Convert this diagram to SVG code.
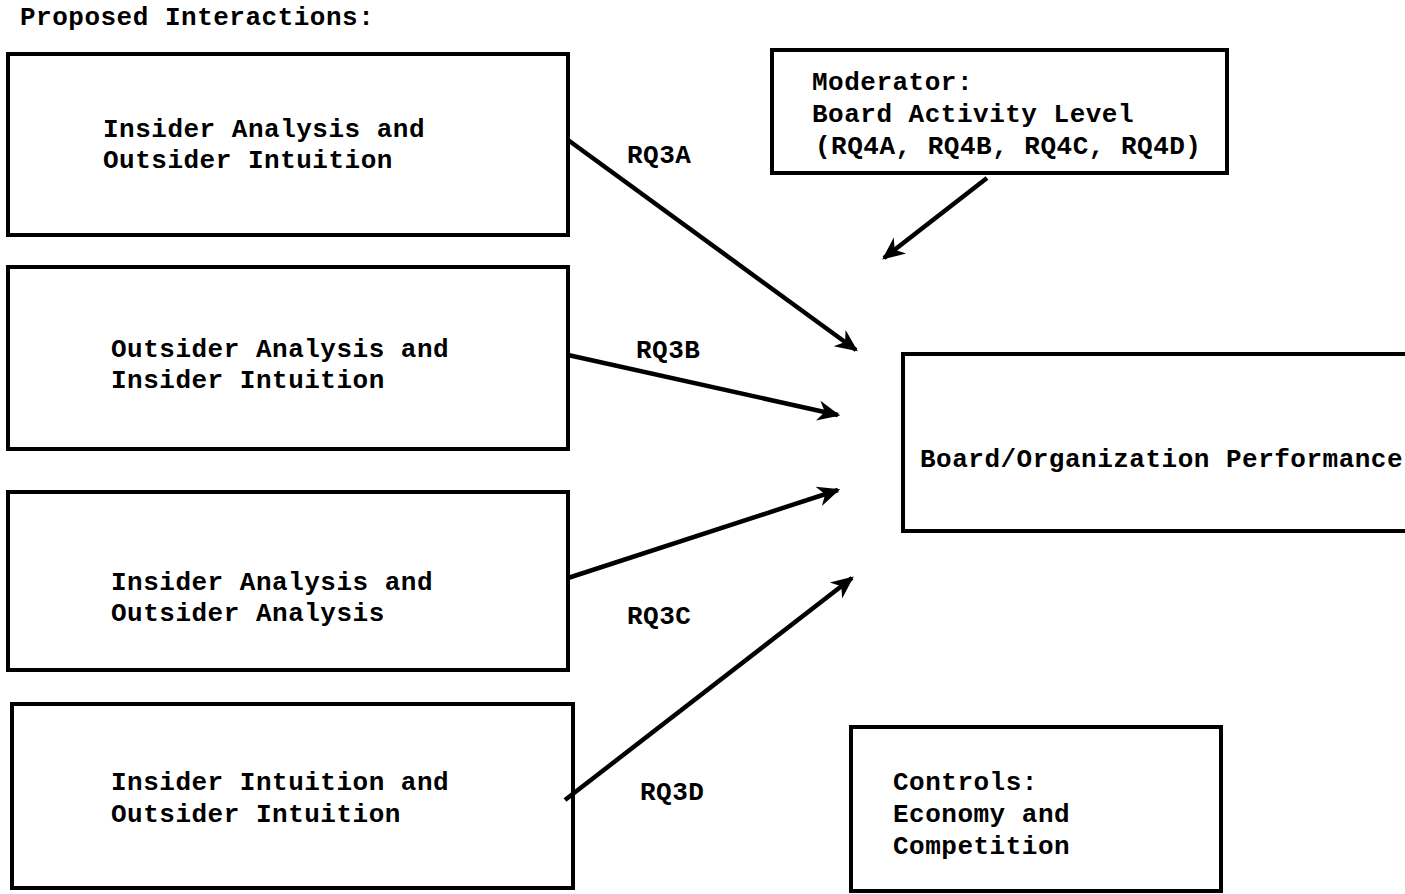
<svg xmlns="http://www.w3.org/2000/svg" width="1405" height="894" viewBox="0 0 1405 894">
<style>
.box{fill:#fff;stroke:#000;stroke-width:4}
.t{font-family:"Liberation Mono","Courier New",monospace;font-weight:bold;font-size:26px;letter-spacing:0.5px;fill:#000}
.c{stroke:#000;stroke-width:4.5;fill:none;marker-end:url(#ah)}
</style>
<defs>
<marker id="ah" viewBox="0 0 10 10" refX="9" refY="5" markerWidth="5" markerHeight="5" orient="auto" markerUnits="strokeWidth">
<path d="M0,0.5 L10,5 L0,9.5 L3,5 Z" fill="#000"/>
</marker>
</defs>
<rect width="1405" height="894" fill="#fff"/>
<text class="t" x="20" y="25">Proposed Interactions:</text>
<g id="n1"><rect class="box" x="8" y="54" width="560" height="181"/><text class="t" x="103" y="137">Insider Analysis and</text><text class="t" x="103" y="168">Outsider Intuition</text></g>
<g id="n2"><rect class="box" x="8" y="267" width="560" height="182"/><text class="t" x="111" y="357">Outsider Analysis and</text><text class="t" x="111" y="388">Insider Intuition</text></g>
<g id="n3"><rect class="box" x="8" y="492" width="560" height="178"/><text class="t" x="111" y="590">Insider Analysis and</text><text class="t" x="111" y="621">Outsider Analysis</text></g>
<g id="n4"><rect class="box" x="12" y="704" width="561" height="184"/><text class="t" x="111" y="790">Insider Intuition and</text><text class="t" x="111" y="822">Outsider Intuition</text></g>
<g id="mod"><rect class="box" x="772" y="50" width="455" height="123"/><text class="t" x="812" y="90">Moderator:</text><text class="t" x="812" y="122">Board Activity Level</text><text class="t" x="815" y="154">(RQ4A, RQ4B, RQ4C, RQ4D)</text></g>
<g id="perf"><rect class="box" x="903" y="354" width="520" height="177"/><text class="t" x="920" y="467">Board/Organization Performance</text></g>
<g id="ctrl"><rect class="box" x="851" y="727" width="370" height="164"/><text class="t" x="893" y="790">Controls:</text><text class="t" x="893" y="822">Economy and</text><text class="t" x="893" y="854">Competition</text></g>
<g id="connectors">
<line class="c" x1="568" y1="140" x2="856" y2="350"/>
<line class="c" x1="568" y1="355" x2="838" y2="415"/>
<line class="c" x1="568" y1="578" x2="838" y2="490"/>
<line class="c" x1="565" y1="800" x2="852" y2="578"/>
<line class="c" x1="987" y1="178" x2="884" y2="258"/>
<text class="t" x="627" y="163">RQ3A</text>
<text class="t" x="636" y="358">RQ3B</text>
<text class="t" x="627" y="624">RQ3C</text>
<text class="t" x="640" y="800">RQ3D</text>
</g>
</svg>
